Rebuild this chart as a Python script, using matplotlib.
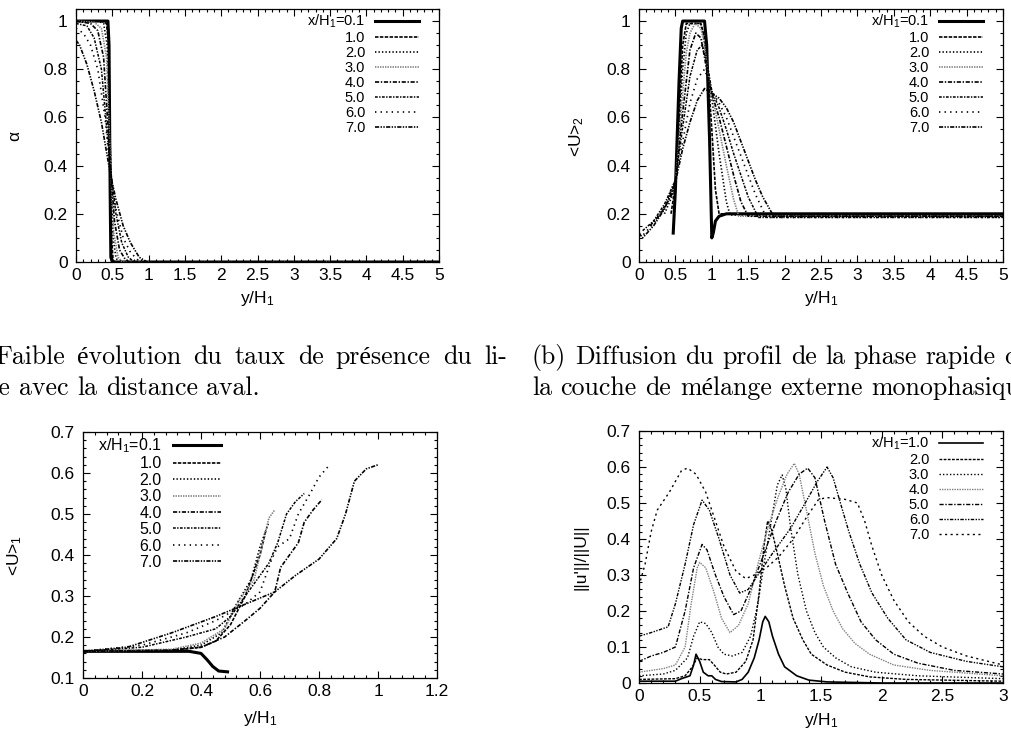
import numpy as np
import matplotlib
matplotlib.use('Agg')
import matplotlib.pyplot as plt
from matplotlib.ticker import MultipleLocator, AutoMinorLocator, FuncFormatter

plt.rcParams['font.family'] = ['Liberation Sans', 'DejaVu Sans']
plt.rcParams['mathtext.fontset'] = 'custom'
plt.rcParams['mathtext.rm'] = 'Liberation Sans'
plt.rcParams['mathtext.it'] = 'Liberation Sans'
plt.rcParams['lines.scale_dashes'] = False

# ---------------- data ----------------
labels_abc = ['x/H$_1$=0.1', '1.0', '2.0', '3.0', '4.0', '5.0', '6.0', '7.0']
labels_d = ['x/H$_1$=1.0', '2.0', '3.0', '4.0', '5.0', '6.0', '7.0']

# (a) alpha vs y/H1
a_x01 = [0, 0.40, 0.44, 0.455, 0.47, 0.48, 0.50, 5.0]
a_y01 = [1, 1, 1, 0.9, 0.3, 0.02, 0, 0]
a_x1 = [0, 0.35, 0.42, 0.45, 0.47, 0.49, 0.51, 0.53, 5.0]
a_y1 = [1, 1, 0.99, 0.9, 0.5, 0.1, 0.01, 0, 0]
a_x2 = [0, 0.3, 0.38, 0.43, 0.47, 0.51, 0.55, 0.58, 5.0]
a_y2 = [1, 1, 0.99, 0.9, 0.5, 0.1, 0.02, 0, 0]
a_x3 = [0, 0.25, 0.35, 0.42, 0.47, 0.52, 0.58, 0.63, 5.0]
a_y3 = [1, 0.995, 0.97, 0.85, 0.45, 0.12, 0.02, 0, 0]
a_x4 = [0, 0.2, 0.3, 0.38, 0.47, 0.53, 0.6, 0.68, 0.73, 5.0]
a_y4 = [1, 0.99, 0.96, 0.85, 0.42, 0.17, 0.05, 0.01, 0, 0]
a_x5 = [0, 0.15, 0.25, 0.35, 0.47, 0.55, 0.63, 0.72, 0.8, 5.0]
a_y5 = [0.99, 0.98, 0.93, 0.8, 0.4, 0.2, 0.08, 0.02, 0, 0]
a_x6 = [0, 0.1, 0.2, 0.3, 0.4, 0.47, 0.55, 0.65, 0.75, 0.88, 5.0]
a_y6 = [0.97, 0.95, 0.9, 0.8, 0.6, 0.38, 0.22, 0.1, 0.04, 0, 0]
a_x7 = [0, 0.05, 0.15, 0.25, 0.35, 0.47, 0.55, 0.65, 0.75, 0.87, 0.98, 5.0]
a_y7 = [0.92, 0.9, 0.82, 0.71, 0.58, 0.37, 0.26, 0.15, 0.08, 0.02, 0, 0]

# (b) <U>_2 vs y/H1
b_x01 = [0.47, 0.5, 0.55, 0.58, 0.6, 0.9, 0.93, 0.97, 1.0, 1.02, 1.05, 1.1, 1.2, 5.0]
b_y01 = [0.12, 0.3, 0.75, 0.97, 1, 1, 0.9, 0.5, 0.1, 0.12, 0.17, 0.19, 0.2, 0.2]
b_x1 = [0.44, 0.5, 0.55, 0.6, 0.65, 0.85, 0.9, 0.95, 1.0, 1.05, 1.1, 5.0]
b_y1 = [0.2, 0.32, 0.6, 0.9, 0.99, 0.99, 0.93, 0.78, 0.55, 0.3, 0.2, 0.2]
b_x2 = [0.35, 0.45, 0.5, 0.55, 0.6, 0.65, 0.7, 0.85, 0.9, 0.95, 1.0, 1.1, 1.2, 1.25, 5.0]
b_y2 = [0.2, 0.27, 0.33, 0.55, 0.8, 0.95, 0.99, 0.99, 0.92, 0.78, 0.68, 0.45, 0.25, 0.195, 0.195]
b_x3 = [0.25, 0.4, 0.5, 0.55, 0.6, 0.65, 0.7, 0.77, 0.85, 0.9, 0.95, 1.0, 1.1, 1.2, 1.3, 1.37, 5.0]
b_y3 = [0.18, 0.25, 0.33, 0.5, 0.7, 0.87, 0.95, 0.99, 0.97, 0.9, 0.78, 0.7, 0.55, 0.4, 0.26, 0.19, 0.19]
b_x4 = [0.15, 0.3, 0.45, 0.5, 0.6, 0.7, 0.78, 0.85, 0.9, 0.95, 1.0, 1.1, 1.2, 1.3, 1.4, 1.5, 5.0]
b_y4 = [0.15, 0.2, 0.28, 0.33, 0.62, 0.88, 0.95, 0.93, 0.85, 0.76, 0.7, 0.6, 0.48, 0.36, 0.25, 0.19, 0.19]
b_x5 = [0.05, 0.2, 0.35, 0.5, 0.6, 0.7, 0.8, 0.87, 0.95, 1.0, 1.1, 1.2, 1.3, 1.4, 1.5, 1.64, 5.0]
b_y5 = [0.13, 0.17, 0.24, 0.34, 0.56, 0.77, 0.88, 0.9, 0.8, 0.71, 0.64, 0.55, 0.45, 0.36, 0.27, 0.185, 0.185]
b_x6 = [0, 0.05, 0.2, 0.35, 0.5, 0.6, 0.7, 0.8, 0.9, 0.95, 1.0, 1.1, 1.2, 1.35, 1.5, 1.6, 1.75, 5.0]
b_y6 = [0.12, 0.11, 0.16, 0.23, 0.34, 0.5, 0.66, 0.76, 0.8, 0.76, 0.71, 0.66, 0.6, 0.48, 0.36, 0.28, 0.185, 0.185]
b_x7 = [0, 0.05, 0.2, 0.35, 0.5, 0.6, 0.7, 0.8, 0.9, 1.0, 1.1, 1.2, 1.3, 1.4, 1.5, 1.6, 1.7, 1.85, 5.0]
b_y7 = [0.12, 0.1, 0.15, 0.22, 0.33, 0.47, 0.58, 0.67, 0.72, 0.7, 0.68, 0.64, 0.58, 0.5, 0.42, 0.34, 0.27, 0.19, 0.19]

# (c) <U>_1 vs y/H1
c_x01 = [0, 0.36, 0.4, 0.42, 0.44, 0.46, 0.49]
c_y01 = [0.165, 0.165, 0.16, 0.145, 0.128, 0.117, 0.115]
c_x1 = [0, 0.3, 0.4, 0.45, 0.5, 0.55, 0.6, 0.62]
c_y1 = [0.165, 0.167, 0.175, 0.19, 0.23, 0.3, 0.4, 0.46]
c_x2 = [0, 0.3, 0.4, 0.47, 0.52, 0.57, 0.6, 0.63]
c_y2 = [0.165, 0.168, 0.18, 0.21, 0.28, 0.34, 0.42, 0.48]
c_x3 = [0, 0.3, 0.4, 0.48, 0.53, 0.58, 0.61, 0.63, 0.65]
c_y3 = [0.165, 0.17, 0.185, 0.22, 0.29, 0.34, 0.43, 0.49, 0.51]
c_x4 = [0, 0.3, 0.4, 0.48, 0.55, 0.6, 0.65, 0.67, 0.7, 0.73, 0.75, 0.78, 0.81]
c_y4 = [0.165, 0.168, 0.175, 0.2, 0.24, 0.27, 0.31, 0.37, 0.4, 0.43, 0.48, 0.51, 0.535]
c_x5 = [0, 0.2, 0.35, 0.45, 0.5, 0.55, 0.6, 0.63, 0.66, 0.69, 0.72, 0.75]
c_y5 = [0.165, 0.175, 0.2, 0.22, 0.25, 0.3, 0.35, 0.38, 0.43, 0.5, 0.53, 0.55]
c_x6 = [0, 0.2, 0.35, 0.45, 0.55, 0.6, 0.64, 0.66, 0.7, 0.73, 0.77, 0.8, 0.83]
c_y6 = [0.165, 0.18, 0.21, 0.24, 0.28, 0.31, 0.39, 0.42, 0.44, 0.5, 0.55, 0.59, 0.615]
c_x7 = [0, 0.15, 0.3, 0.45, 0.55, 0.65, 0.72, 0.8, 0.86, 0.89, 0.92, 0.96, 1.0]
c_y7 = [0.165, 0.175, 0.21, 0.25, 0.28, 0.31, 0.35, 0.39, 0.44, 0.5, 0.58, 0.61, 0.62]

# (d) ||u'||/||U|| vs y/H1
d_x1 = [0, 0.3, 0.35, 0.42, 0.45, 0.47, 0.5, 0.53, 0.57, 0.6, 0.63, 0.68, 0.8, 0.85, 0.9, 0.95,
        0.99, 1.02, 1.04, 1.07, 1.1, 1.15, 1.2, 1.3, 1.4, 1.55, 2.0, 3.0]
d_y1 = [0.005, 0.005, 0.012, 0.02, 0.05, 0.08, 0.06, 0.03, 0.02, 0.02, 0.01, 0.004, 0.003, 0.01, 0.03, 0.07,
        0.12, 0.17, 0.185, 0.17, 0.13, 0.08, 0.045, 0.02, 0.008, 0.003, 0.0, 0.0]
d_x2 = [0, 0.3, 0.38, 0.44, 0.48, 0.52, 0.58, 0.62, 0.67, 0.72, 0.8, 0.88, 0.94, 0.99, 1.03, 1.06,
        1.09, 1.14, 1.2, 1.27, 1.35, 1.42, 1.55, 1.7, 1.9, 2.2, 3.0]
d_y2 = [0.01, 0.012, 0.02, 0.045, 0.07, 0.065, 0.065, 0.05, 0.03, 0.025, 0.03, 0.06, 0.12, 0.25, 0.38, 0.45,
        0.43, 0.36, 0.27, 0.18, 0.12, 0.08, 0.05, 0.03, 0.017, 0.01, 0.005]
d_x3 = [0, 0.2, 0.3, 0.4, 0.45, 0.5, 0.55, 0.6, 0.65, 0.7, 0.77, 0.85, 0.92, 0.98, 1.03, 1.09, 1.14,
        1.18, 1.21, 1.25, 1.31, 1.38, 1.45, 1.52, 1.62, 1.75, 1.95, 2.3, 3.0]
d_y3 = [0.02, 0.025, 0.035, 0.07, 0.13, 0.17, 0.165, 0.14, 0.1, 0.08, 0.075, 0.085, 0.13, 0.22, 0.33, 0.45, 0.55,
        0.578, 0.54, 0.43, 0.3, 0.2, 0.14, 0.1, 0.07, 0.045, 0.03, 0.02, 0.012]
d_x4 = [0, 0.2, 0.3, 0.38, 0.43, 0.48, 0.5, 0.55, 0.62, 0.68, 0.75, 0.82, 0.9, 0.98, 1.07, 1.15, 1.22,
        1.28, 1.32, 1.38, 1.45, 1.52, 1.6, 1.68, 1.78, 1.9, 2.1, 2.4, 3.0]
d_y4 = [0.03, 0.04, 0.05, 0.1, 0.22, 0.32, 0.335, 0.32, 0.25, 0.18, 0.14, 0.16, 0.22, 0.33, 0.44, 0.52, 0.58,
        0.61, 0.58, 0.48, 0.36, 0.27, 0.2, 0.15, 0.11, 0.08, 0.05, 0.035, 0.02]
d_x5 = [0, 0.1, 0.2, 0.3, 0.38, 0.45, 0.52, 0.56, 0.63, 0.7, 0.78, 0.84, 0.92, 1.02, 1.13, 1.23, 1.32,
        1.39, 1.45, 1.53, 1.62, 1.72, 1.83, 1.95, 2.1, 2.3, 2.6, 3.0]
d_y5 = [0.06, 0.075, 0.085, 0.1, 0.2, 0.32, 0.385, 0.37, 0.3, 0.24, 0.19, 0.2, 0.26, 0.35, 0.45, 0.53, 0.58,
        0.597, 0.57, 0.45, 0.33, 0.25, 0.17, 0.12, 0.08, 0.055, 0.035, 0.025]
d_x6 = [0, 0.1, 0.24, 0.3, 0.38, 0.45, 0.52, 0.58, 0.66, 0.75, 0.83, 0.9, 0.98, 1.1, 1.25, 1.37, 1.47,
        1.55, 1.6, 1.66, 1.73, 1.82, 1.92, 2.05, 2.2, 2.4, 2.7, 3.0]
d_y6 = [0.13, 0.14, 0.156, 0.22, 0.33, 0.44, 0.508, 0.48, 0.4, 0.3, 0.25, 0.26, 0.3, 0.36, 0.43, 0.5, 0.56,
        0.6, 0.57, 0.5, 0.42, 0.33, 0.25, 0.18, 0.12, 0.085, 0.06, 0.045]
d_x7 = [0, 0.05, 0.1, 0.15, 0.19, 0.25, 0.3, 0.35, 0.4, 0.47, 0.55, 0.62, 0.7, 0.8, 0.88, 0.95, 1.05,
        1.15, 1.27, 1.38, 1.48, 1.55, 1.7, 1.8, 1.86, 1.92, 2.0, 2.1, 2.22, 2.35, 2.5, 2.7, 3.0]
d_y7 = [0.27, 0.33, 0.42, 0.48, 0.5, 0.53, 0.56, 0.59, 0.597, 0.58, 0.53, 0.46, 0.38, 0.31, 0.29, 0.3, 0.32,
        0.35, 0.4, 0.46, 0.51, 0.515, 0.51, 0.5, 0.45, 0.38, 0.3, 0.23, 0.17, 0.13, 0.1, 0.075, 0.05]

# captions
cap_a1 = '(a) Faible évolution du taux de présence du li-'
cap_a2 = 'quide avec la distance aval.'
cap_b1 = '(b) Diffusion du profil de la phase rapide de'
cap_b2 = 'la couche de mélange externe monophasique.'

# ---------------- styles (gnuplot monochrome look) ----------------
st_abc = [
    dict(color='k', lw=2.2, ls='-'),
    dict(color='k', lw=1.2, ls=(0, (2.5, 1))),
    dict(color='k', lw=1.2, ls=(0, (1, 1.5))),
    dict(color='0.5', lw=1.2, ls=(0, (1, 0.8))),
    dict(color='k', lw=1.2, ls=(0, (3, 1.2, 1, 1.2))),
    dict(color='k', lw=1.1, ls=(0, (2, 1, 1, 1))),
    dict(color='k', lw=1.2, ls=(0, (1, 3))),
    dict(color='k', lw=1.2, ls=(0, (3, 1, 1, 1, 1, 1))),
]
st_d = [
    dict(color='k', lw=1.2, ls='-'),
    dict(color='k', lw=1.0, ls=(0, (2, 1))),
    dict(color='k', lw=1.0, ls=(0, (1, 1.5))),
    dict(color='0.5', lw=1.0, ls=(0, (1, 0.8))),
    dict(color='k', lw=1.0, ls=(0, (3, 1.2, 1, 1.2))),
    dict(color='k', lw=1.0, ls=(0, (2.5, 1, 1, 1, 1, 1))),
    dict(color='k', lw=1.0, ls=(0, (1.5, 2.5))),
]

W, H = 1011, 731
fig = plt.figure(figsize=(W / 100, H / 100), dpi=100)


def add_ax(x0, y0, x1, y1):
    return fig.add_axes([x0 / W, 1 - y1 / H, (x1 - x0) / W, (y1 - y0) / H])


def style_ax(ax, xmaj, ymaj, xmin_n, ymin_n):
    ax.xaxis.set_major_locator(MultipleLocator(xmaj))
    ax.yaxis.set_major_locator(MultipleLocator(ymaj))
    ax.xaxis.set_minor_locator(AutoMinorLocator(xmin_n))
    ax.yaxis.set_minor_locator(AutoMinorLocator(ymin_n))
    ax.tick_params(which='both', direction='in', top=True, right=True, labelsize=12.5, width=0.8)
    ax.tick_params(which='major', length=5)
    ax.tick_params(which='minor', length=2.5)
    ax.tick_params(axis='y', pad=6)
    ax.tick_params(axis='x', pad=4)
    for s in ax.spines.values():
        s.set_linewidth(0.9)
    fmt = FuncFormatter(lambda v, p: '%g' % round(v, 3))
    ax.xaxis.set_major_formatter(fmt)
    ax.yaxis.set_major_formatter(fmt)


def px(x, y):
    return x / W, 1 - y / H


def legend(ax, loc, anchor, size, spacing):
    return ax.legend(loc=loc, bbox_to_anchor=anchor, frameon=False, markerfirst=False,
                     fontsize=size, handlelength=3.0, handletextpad=0.7, labelspacing=spacing,
                     borderpad=0.2, borderaxespad=0)


# ---- (a)
axa = add_ax(76, 9, 439, 262)
a_xs = [a_x01, a_x1, a_x2, a_x3, a_x4, a_x5, a_x6, a_x7]
a_ys = [a_y01, a_y1, a_y2, a_y3, a_y4, a_y5, a_y6, a_y7]
for xs, ys, st, lb in zip(a_xs, a_ys, st_abc, labels_abc):
    axa.plot(xs, ys, label=lb, **st)
axa.set_xlim(0, 5)
axa.set_ylim(0, 1.05)
style_ax(axa, 0.5, 0.2, 5, 4)
legend(axa, 'upper right', (1 - 17 / 363, 1 - 1 / 253), 10.5, 0.07)

# ---- (b)
axb = add_ax(639, 9, 1003, 262)
b_xs = [b_x01, b_x1, b_x2, b_x3, b_x4, b_x5, b_x6, b_x7]
b_ys = [b_y01, b_y1, b_y2, b_y3, b_y4, b_y5, b_y6, b_y7]
for xs, ys, st, lb in zip(b_xs, b_ys, st_abc, labels_abc):
    axb.plot(xs, ys, label=lb, **st)
axb.set_xlim(0, 5)
axb.set_ylim(0, 1.05)
style_ax(axb, 0.5, 0.2, 5, 4)
legend(axb, 'upper right', (1 - 17 / 364, 1 - 1 / 253), 10.5, 0.07)

# ---- (c)
axc = add_ax(83, 432, 437, 678)
c_xs = [c_x01, c_x1, c_x2, c_x3, c_x4, c_x5, c_x6, c_x7]
c_ys = [c_y01, c_y1, c_y2, c_y3, c_y4, c_y5, c_y6, c_y7]
for xs, ys, st, lb in zip(c_xs, c_ys, st_abc, labels_abc):
    axc.plot(xs, ys, label=lb, **st)
axc.set_xlim(0, 1.2)
axc.set_ylim(0.1, 0.7)
style_ax(axc, 0.2, 0.1, 5, 5)
legend(axc, 'upper left', (12 / 354, 1 - 1 / 246), 11.5, 0.09)

# ---- (d)
axd = add_ax(639, 431, 1003, 683)
d_xs = [d_x1, d_x2, d_x3, d_x4, d_x5, d_x6, d_x7]
d_ys = [d_y1, d_y2, d_y3, d_y4, d_y5, d_y6, d_y7]
for xs, ys, st, lb in zip(d_xs, d_ys, st_d, labels_d):
    axd.plot(xs, ys, label=lb, **st)
axd.set_xlim(0, 3)
axd.set_ylim(0, 0.7)
style_ax(axd, 0.5, 0.1, 5, 5)
legend(axd, 'upper right', (1 - 17 / 364, 1 - 1 / 252), 10.5, 0.07)

# ---- axis labels
lab = dict(fontsize=12.5, ha='center', va='center')
fig.text(*px(257, 299), 'y/H$_1$', **lab)
fig.text(*px(821, 299), 'y/H$_1$', **lab)
fig.text(*px(260, 719), 'y/H$_1$', **lab)
fig.text(*px(821, 720), 'y/H$_1$', **lab)
fig.text(*px(15, 136), 'α', rotation=90, **lab)
fig.text(*px(577, 136), '<U>$_2$', rotation=90, **lab)
fig.text(*px(15, 555), '<U>$_1$', rotation=90, **lab)
fig.text(*px(581, 557), "||u'||/||U||", rotation=90, **lab)

# ---- captions (serif, cut by the page edges), set word by word
cap_size = 18.6
cap = dict(fontsize=cap_size, family=['cmr10', 'Liberation Serif'], va='baseline', ha='left')
renderer = fig.canvas.get_renderer()
space = 0.333 * cap_size * 100 / 72


def caption_line(text, x0, y, x1=None):
    words = text.split(' ')
    tt = [fig.text(0, 1 - y / H, w, **cap) for w in words]
    ws = [t.get_window_extent(renderer).width for t in tt]
    gap = space
    if x1 is not None:
        gap = max(space, (x1 - x0 - sum(ws)) / (len(ws) - 1))
    x = x0
    for t, w in zip(tt, ws):
        t.set_x(x / W)
        x += w + gap


probe = fig.text(0, 0, 'quid', **cap)
left_a = -probe.get_window_extent(renderer).width - 1
probe.remove()
caption_line(cap_a1, left_a, 364, 507)
caption_line(cap_a2, left_a, 395)
caption_line(cap_b1, 532, 364, 1024)
caption_line(cap_b2, 532, 395)

fig.savefig('out.png', dpi=100)
